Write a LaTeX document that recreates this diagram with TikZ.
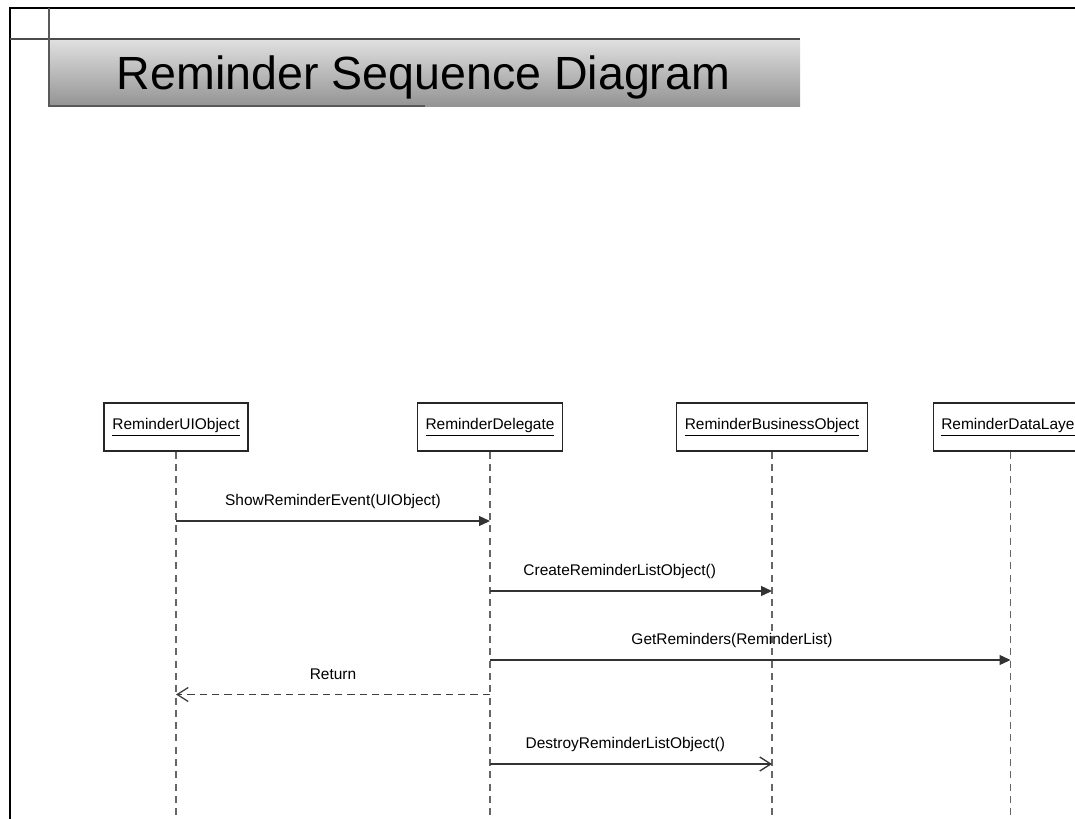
\documentclass[tikz,border=0pt]{standalone}
\usepackage{fontspec}
\setmainfont{Liberation Sans}
\usetikzlibrary{arrows.meta}
\tikzstyle{obj} = [draw=black!85, line width=0.6pt, minimum width=2.88cm, minimum height=0.96cm, inner xsep=0.16cm, font=\fontsize{8.8}{10}\selectfont]
\tikzstyle{life} = [draw=black!60, line width=0.75pt, dash pattern=on 4pt off 3pt]
\tikzstyle{call} = [draw=black!80, line width=0.75pt, -{Triangle[length=2.2mm,width=2mm]}]
\tikzstyle{reply} = [draw=black!75, line width=0.75pt, dash pattern=on 4.2pt off 2.8pt, -{Straight Barb[length=2.2mm,width=2.8mm]}]
\tikzstyle{send} = [draw=black!80, line width=0.75pt, -{Straight Barb[length=2.2mm,width=2.8mm]}]
\tikzstyle{msg} = [font=\fontsize{8.8}{10}\selectfont, yshift=0.4cm]

\begin{document}
\begin{tikzpicture}
			\path [use as bounding box] (0,0) rectangle (21.5,-16.36);
			\clip (0,0) rectangle (21.5,-16.36);

			% frame and title banner
			\draw [line width=1.3pt] (0.2,-16.5) -- (0.2,-0.16) -- (21.6,-0.16);
			\shade [top color=black!12, bottom color=black!42] (0.98,-0.78) rectangle (16.0,-2.12);
			\draw [black!70, line width=0.8pt] (0.2,-0.78) -- (16.0,-0.78);
			\draw [black!65, line width=0.8pt] (0.98,-0.16) -- (0.98,-2.12) -- (8.5,-2.12);
			\node [anchor=base west, font=\fontsize{26.5}{30}\selectfont, inner sep=0pt] (title) at (2.33,-1.78) {Reminder Sequence Diagram};

			% objects
			\node [obj] (ui) at (3.52, -8.54) {\underline{ReminderUIObject}};
			\node [obj] (dlg) at (9.8, -8.54) {\underline{ReminderDelegate}};
			\node [obj] (bus) at (15.44, -8.54) {\underline{ReminderBusinessObject}};
			\node [obj] (dal) at (20.21, -8.54) {\underline{ReminderDataLayer}};

			\coordinate (bottom) at (0, -16.5);
			\path [life] (ui) -- (ui |- bottom);
			\path [life] (dlg) -- (dlg |- bottom);
			\path [life] (bus) -- (bus |- bottom);
			\path [life] (dal) -- (dal |- bottom);

			% messages
			\coordinate (t1) at (0, -10.42);
			\coordinate (t2) at (0, -11.82);
			\coordinate (t3) at (0, -13.2);
			\coordinate (t4) at (0, -13.89);
			\coordinate (t5) at (0, -15.28);

			\path [call] (ui |- t1) -- node [msg] {ShowReminderEvent(UIObject)} (dlg |- t1);
			\path [call] (dlg |- t2) -- node [msg, pos=0.46] {CreateReminderListObject()} (bus |- t2);
			\path [call] (dlg |- t3) -- node [msg, pos=0.465] {GetReminders(ReminderList)} (dal |- t3);
			\path [reply] (dlg |- t4) -- node [msg] {Return} (ui |- t4);
			\path [send] (dlg |- t5) -- node [msg, pos=0.48] {DestroyReminderListObject()} (bus |- t5);
		\end{tikzpicture}
\end{document}
